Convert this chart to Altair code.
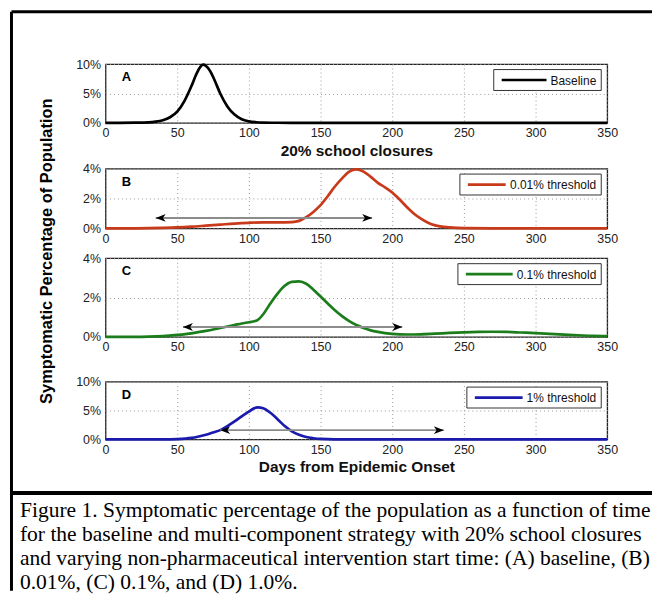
import altair as alt
import pandas as pd

# ---------------- data ----------------
days_a = [0, 10, 20, 30, 35, 40, 45, 50, 55, 60, 63, 66, 68, 70, 73, 76, 80, 85, 90, 95, 100, 105, 110, 120, 130, 150, 200, 250, 300, 350]
vals_a = [0, 0, 0.02, 0.08, 0.2, 0.45, 0.95, 1.9, 3.7, 6.3, 8.1, 9.5, 9.9, 9.7, 8.8, 7.3, 5.0, 2.8, 1.4, 0.6, 0.25, 0.1, 0.04, 0.01, 0, 0, 0, 0, 0, 0]

days_b = [0, 20, 30, 40, 50, 60, 70, 80, 90, 100, 110, 120, 130, 135, 140, 145, 150, 155, 160, 165, 170, 175, 180, 185, 190, 195, 200, 205, 210, 215, 220, 225, 230, 240, 250, 270, 300, 350]
vals_b = [0, 0, 0.01, 0.03, 0.06, 0.11, 0.18, 0.25, 0.32, 0.37, 0.4, 0.4, 0.42, 0.5, 0.75, 1.1, 1.55, 2.15, 2.8, 3.35, 3.8, 3.95, 3.8, 3.45, 3.05, 2.75, 2.4, 1.95, 1.45, 1.0, 0.65, 0.38, 0.2, 0.06, 0.01, 0, 0, 0]

days_c = [0, 20, 30, 40, 50, 60, 70, 80, 90, 95, 100, 103, 106, 110, 115, 120, 125, 130, 135, 140, 145, 150, 155, 160, 165, 170, 175, 180, 185, 190, 200, 210, 220, 230, 240, 250, 260, 270, 280, 290, 300, 310, 320, 330, 340, 350]
vals_c = [0, 0, 0.01, 0.04, 0.1, 0.18, 0.3, 0.45, 0.6, 0.68, 0.74, 0.78, 0.85, 1.15, 1.7, 2.2, 2.6, 2.8, 2.82, 2.7, 2.4, 2.05, 1.7, 1.35, 1.05, 0.8, 0.6, 0.45, 0.33, 0.25, 0.15, 0.12, 0.13, 0.16, 0.2, 0.23, 0.25, 0.26, 0.25, 0.22, 0.19, 0.15, 0.11, 0.08, 0.05, 0.04]

days_d = [0, 40, 50, 60, 65, 70, 75, 80, 85, 90, 95, 100, 103, 106, 110, 115, 120, 125, 130, 135, 140, 145, 150, 160, 200, 250, 300, 350]
vals_d = [0, 0, 0.05, 0.25, 0.5, 0.8, 1.2, 1.6, 2.3, 3.1, 4.0, 4.8, 5.3, 5.55, 5.4, 4.6, 3.5, 2.3, 1.4, 0.8, 0.4, 0.2, 0.08, 0.01, 0, 0, 0, 0]

series_names = ["Baseline", "0.01% threshold", "0.1% threshold", "1% threshold"]
panel_letters = ["A", "B", "C", "D"]
y_max = [10, 4, 4, 10]
y_ticks = [[0, 5, 10], [0, 2, 4], [0, 2, 4], [0, 5, 10]]
x_ticks = [0, 50, 100, 150, 200, 250, 300, 350]

arrow_start = [None, 35, 54, 80]
arrow_end = [None, 186, 207, 236]
arrow_level = [None, 0.7, 0.5, 1.6]

x_titles = ["20% school closures", None, None, "Days from Epidemic Onset"]
y_title = "Symptomatic Percentage of Population"
caption_lines = [
    "Figure 1. Symptomatic percentage of the population as a function of time",
    "for the baseline and multi-component strategy with 20% school closures",
    "and varying non-pharmaceutical intervention start time: (A) baseline, (B)",
    "0.01%, (C) 0.1%, and (D) 1.0%.",
]

all_days = [days_a, days_b, days_c, days_d]
all_vals = [vals_a, vals_b, vals_c, vals_d]

# ---------------- styles ----------------
FONT = "Liberation Sans"
SERIF = "Liberation Serif"
series_colors = ["#000000", "#c93a1a", "#1b7d1b", "#1a1aae"]
panel_heights = [59, 60, 79, 58]
gaps = [46, 30, 45]
PW = 504
LEFT_ARROW = "M0,0 L2,-0.8 L1.45,0 L2,0.8 Z"
RIGHT_ARROW = "M0,0 L-2,-0.8 L-1.45,0 L-2,0.8 Z"
# legend box placement (pixels inside each panel)
LEG_LEFT = [390, 356, 354, 363]
LEG_LINE_END = [443, 402, 409, 419]
LEG_RIGHT = 498
LEG_TOP = 5.5
LEG_BOTTOM = 26.5
FRAME_TOP = -52.5
FRAME_BOTTOM = 529
FRAME_RIGHT = 549

one = pd.DataFrame({"k": [0]})


def panel(i):
    df = pd.DataFrame({"day": all_days[i], "value": all_vals[i]})
    xt = x_titles[i]
    xscale = alt.Scale(domain=[0, 350], nice=False, zero=False)
    yscale = alt.Scale(domain=[0, y_max[i]], nice=False)
    xaxis = alt.Axis(values=x_ticks, grid=True, ticks=False, domain=False,
                     labelPadding=4, labelFlush=False, titlePadding=4,
                     titleFontSize=15.5, titleFontWeight="bold")
    yaxis = alt.Axis(values=y_ticks[i], grid=True, ticks=False, domain=False,
                     labelPadding=5, labelFlush=False,
                     labelExpr="datum.value + '%'")

    def X(field):
        return alt.X(field, type="quantitative", scale=xscale, axis=xaxis, title=xt)

    def Y(field):
        return alt.Y(field, type="quantitative", scale=yscale, axis=yaxis, title=None)

    line = alt.Chart(df).mark_line(strokeWidth=2.7, interpolate="monotone",
                                   color=series_colors[i]).encode(x=X("day"), y=Y("value"))
    layers = [line]
    if arrow_start[i] is not None:
        adf = pd.DataFrame({"day": [arrow_start[i]], "end": [arrow_end[i]], "value": [arrow_level[i]]})
        layers.append(alt.Chart(adf).mark_rule(color="#8c8c8c", strokeWidth=2).encode(
            x=X("day"), x2="end:Q", y=Y("value")))
        layers.append(alt.Chart(adf).mark_point(shape=LEFT_ARROW, filled=True, color="#000000",
                                                size=100, opacity=1).encode(
            x=X("day"), y=Y("value")))
        layers.append(alt.Chart(adf).mark_point(shape=RIGHT_ARROW, filled=True, color="#000000",
                                                size=100, opacity=1).encode(
            x=X("end"), y=Y("value")))
    # panel letter
    layers.append(alt.Chart(one).mark_text(font=FONT, fontSize=13, fontWeight="bold",
                                           align="center", baseline="middle", color="#000000").encode(
        x=alt.value(21), y=alt.value(13), text=alt.value(panel_letters[i])))
    # legend box (Matlab style)
    lx = LEG_LEFT[i]
    ly = (LEG_TOP + LEG_BOTTOM) / 2
    layers.append(alt.Chart(one).mark_rect(fill="#ffffff", stroke="#333333", strokeWidth=1).encode(
        x=alt.value(lx), x2=alt.value(LEG_RIGHT), y=alt.value(LEG_TOP), y2=alt.value(LEG_BOTTOM)))
    layers.append(alt.Chart(one).mark_rule(color=series_colors[i], strokeWidth=2.7).encode(
        x=alt.value(lx + 8), x2=alt.value(LEG_LINE_END[i]), y=alt.value(ly)))
    layers.append(alt.Chart(one).mark_text(font=FONT, fontSize=12, align="right",
                                           baseline="middle", color="#111111").encode(
        x=alt.value(LEG_RIGHT - 5), y=alt.value(ly + 0.5), text=alt.value(series_names[i])))

    if i == 0:
        # figure frame, separator, shared y title and caption (decoration)
        layers.append(alt.Chart(one).mark_rule(color="#000000", strokeWidth=3).encode(
            x=alt.value(-94.5), y=alt.value(FRAME_TOP), y2=alt.value(FRAME_BOTTOM)))
        layers.append(alt.Chart(one).mark_rule(color="#000000", strokeWidth=3).encode(
            x=alt.value(-94.5), x2=alt.value(FRAME_RIGHT), y=alt.value(FRAME_TOP)))
        layers.append(alt.Chart(one).mark_rule(color="#000000", strokeWidth=4).encode(
            x=alt.value(-94.5), x2=alt.value(FRAME_RIGHT), y=alt.value(431)))
        layers.append(alt.Chart(one).mark_text(font=FONT, fontSize=16.5, fontWeight="bold",
                                               angle=270, align="center", baseline="middle",
                                               color="#000000").encode(
            x=alt.value(-59), y=alt.value(188), text=alt.value(y_title)))
        for k, txt in enumerate(caption_lines):
            layers.append(alt.Chart(one).mark_text(font=SERIF, fontSize=21.6, align="left",
                                                   baseline="alphabetic", color="#000000").encode(
                x=alt.value(-86), y=alt.value(455 + 24 * k), text=alt.value(txt)))

    return alt.layer(*layers).properties(
        width=PW, height=panel_heights[i],
        view=alt.ViewBackground(stroke="#222222", strokeWidth=1.3))


def spacer(h):
    return alt.Chart(one).mark_point(opacity=0).encode(
        x=alt.value(0), y=alt.value(0)).properties(
        width=PW, height=h, view=alt.ViewBackground(stroke=None))


parts = []
for i in range(4):
    parts.append(panel(i))
    if i < 3:
        parts.append(spacer(gaps[i]))

chart = alt.vconcat(*parts, spacing=0, bounds="flush").properties(padding=0).resolve_scale(
    x="independent", y="independent"
).configure_axis(
    labelFont=FONT, titleFont=FONT, labelFontSize=12.5, labelColor="#222222",
    titleColor="#111111", gridColor="#9a9a9a", gridDash=[1, 3], gridOpacity=1, gridWidth=1
).configure_view(stroke=None)

chart.save("out.html", embed_options={"renderer": "svg", "actions": False})
